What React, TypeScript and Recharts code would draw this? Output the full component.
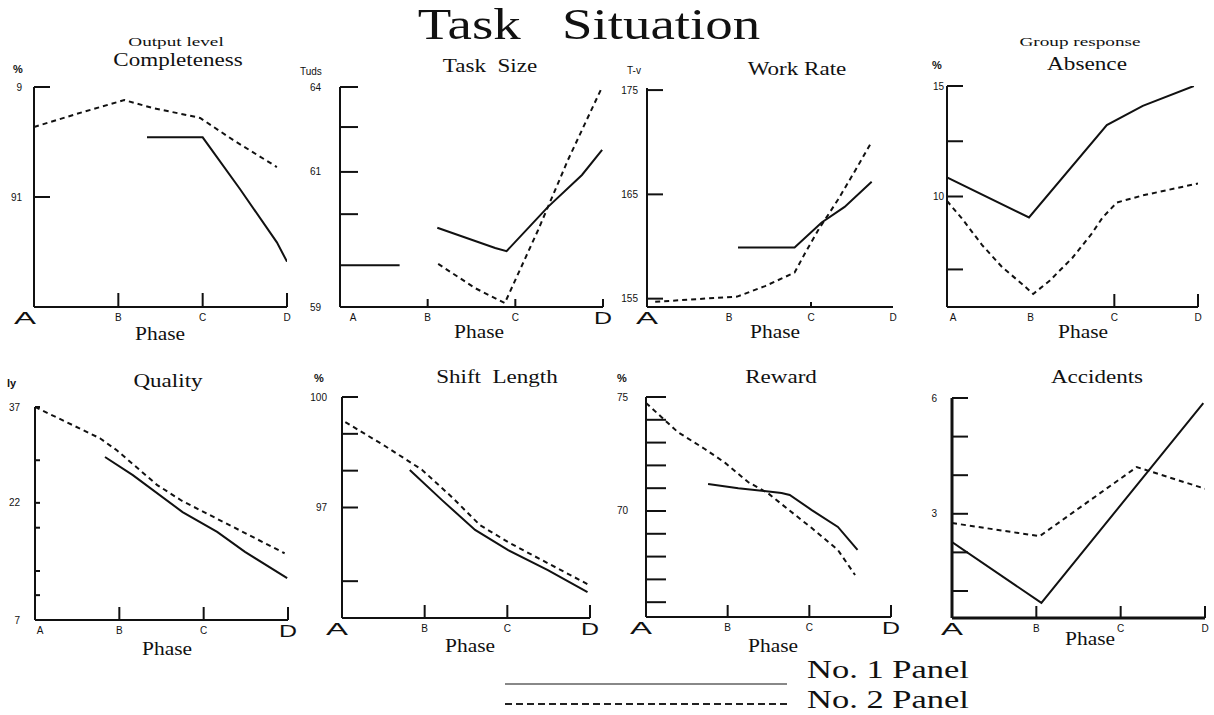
import { LineChart, Line, XAxis, YAxis } from 'recharts';

type Pt = [number, number | null];

// phase axis (A..D) shared by all panels
const phases = ['A', 'B', 'C', 'D'];
const phaseTicks = [0, 1, 2, 3];

// Completeness (output level), %
const completenessTicks = [91, 99];
const completenessLabels = ['91', '9'];
const completenessNo1: Pt[] = [[1.34, 95.34], [2, 95.34], [2.44, 91.6], [2.88, 87.7], [3, 86.3]];
const completenessNo2: Pt[] = [
  [0, 96.09], [0.58, 97.18], [1.07, 98.05], [1.41, 97.47], [1.81, 96.96], [1.97, 96.75], [2.36, 95.15], [2.88, 93.18],
];

// Task size, tuds
const taskTicks = [59, 61.11, 62.07, 63.09, 64];
const taskLabels = ['59', '', '61', '', '64'];
const taskNo1: Pt[] = [
  [0, 59.95], [0.68, 59.95], [0.7, null],
  [1.11, 60.8], [1.77, 60.34], [1.9, 60.27], [2.37, 61.27], [2.76, 62.0], [2.99, 62.57],
];
const taskNo2: Pt[] = [[1.12, 59.98], [1.54, 59.43], [1.88, 59.09], [2.26, 60.75], [2.6, 62.34], [2.99, 64]];

// Work rate, T-v
const workTicks = [155, 165, 175];
const workLabels = ['155', '165', '175'];
const workNo1: Pt[] = [[1.11, 159.9], [1.8, 159.9], [2.13, 162.3], [2.41, 163.8], [2.74, 166.2]];
const workNo2: Pt[] = [
  [0.1, 154.7], [1.1, 155.2], [1.44, 156.2], [1.8, 157.5], [1.93, 159.4], [2.09, 161.6], [2.33, 164.5], [2.57, 167.7], [2.74, 170.05],
];

// Absence (group response), %
const absenceTicks = [6.7, 10, 12.5, 15];
const absenceLabels = ['', '10', '', '15'];
const absenceNo1: Pt[] = [[0, 10.86], [0.98, 9.05], [1.91, 13.23], [2.34, 14.1], [2.95, 15]];
const absenceNo2: Pt[] = [
  [0, 9.8], [0.19, 8.95], [0.42, 7.8], [0.66, 6.8], [0.91, 6.0], [1.03, 5.59],
  [1.23, 6.2], [1.5, 7.23], [1.73, 8.32], [1.86, 9.05], [2.03, 9.73], [2.34, 10.05], [3, 10.59],
];

// Quality, ly
const qualityTicks = [7, 10.5, 13.9, 20, 23.5, 29.5, 37];
const qualityLabels = ['7', '', '', '', '22', '', '37'];
const qualityNo1: Pt[] = [[0.83, 29.96], [1.16, 27.4], [1.75, 22.2], [2.16, 19.4], [2.49, 16.6], [2.99, 12.9]];
const qualityNo2: Pt[] = [[0, 37], [0.77, 32.6], [0.97, 30.9], [1.45, 26.0], [1.74, 23.8], [2.35, 20.1], [2.96, 16.4]];

// Shift length, %
const shiftTicks = [95, 97, 98, 99, 100];
const shiftLabels = ['', '97', '', '', '100'];
const shiftNo1: Pt[] = [[0.82, 98.02], [1.21, 97.2], [1.61, 96.39], [2.01, 95.84], [2.49, 95.3], [2.97, 94.7]];
const shiftNo2: Pt[] = [
  [0.04, 99.32], [0.52, 98.67], [0.97, 98.02], [1.33, 97.28], [1.67, 96.52], [2.01, 96.06], [2.42, 95.57], [2.97, 94.92],
];

// Reward, %
const rewardTicks = [66, 67, 68, 69, 70, 71, 72, 73, 74, 75];
const rewardLabels = ['', '', '', '', '70', '', '', '', '', '75'];
const rewardNo1: Pt[] = [[0.76, 71.18], [1.13, 71.0], [1.66, 70.79], [1.76, 70.7], [2.03, 70.04], [2.35, 69.3], [2.59, 68.29]];
const rewardNo2: Pt[] = [
  [0, 74.74], [0.39, 73.46], [0.72, 72.72], [0.97, 72.11], [1.25, 71.27], [1.49, 70.79], [1.72, 70.13],
  [2.03, 69.25], [2.35, 68.29], [2.56, 67.19],
];

// Accidents
const accidentTicks = [1, 2, 3, 4, 5, 6];
const accidentLabels = ['', '', '3', '', '', '6'];
const accidentNo1: Pt[] = [[0, 2.27], [1.06, 0.69], [2.98, 5.87]];
const accidentNo2: Pt[] = [[0, 2.76], [1.04, 2.42], [2.19, 4.21], [3, 3.65]];

const INK = '#111';
const SERIF = '"Liberation Serif", "Times New Roman", serif';
const SANS = '"Liberation Sans", Arial, sans-serif';
const PAD_L = 44;
const PAD_R = 26;
const PAD_T = 8;
const PAD_B = 30;

interface PanelProps {
  left: number;
  top: number;
  right: number;
  bottom: number;
  domain: [number, number];
  yTicks: number[];
  yLabels: string[];
  no1: Pt[];
  no2: Pt[];
  labelGap: number;
  tickLen: number;
  marks: number[];
  markLen: number;
  axisW?: number;
  bigA?: boolean;
  bigD?: boolean;
  aShift?: number;
}

function Panel(p: PanelProps) {
  const w = p.right - p.left;
  const h = p.bottom - p.top;
  const rows1 = p.no1.map(([x, y]) => ({ x, y }));
  const rows2 = p.no2.map(([x, y]) => ({ x, y }));

  const renderX = (t: any) => {
    const v = t.payload.value as number;
    const big = (v === 0 && p.bigA) || (v === 3 && p.bigD);
    const tx = t.x + (v === 0 ? p.aShift ?? 0 : 0);
    return (
      <g>
        {p.marks.includes(v) && (
          <line x1={t.x} x2={t.x} y1={t.y} y2={t.y - p.markLen} stroke={INK} strokeWidth={2} />
        )}
        {big ? (
          <text x={tx} y={t.y + 17} textAnchor="middle" fontSize={16} fontFamily={SANS} fill={INK}
            textLength={v === 0 ? 22 : 18} lengthAdjust="spacingAndGlyphs">
            {phases[v]}
          </text>
        ) : (
          <text x={tx} y={t.y + 14} textAnchor="middle" fontSize={10} fontFamily={SANS} fill={INK}>
            {phases[v]}
          </text>
        )}
      </g>
    );
  };

  const renderY = (t: any) => {
    const v = t.payload.value as number;
    const label = p.yLabels[p.yTicks.indexOf(v)];
    return (
      <g>
        <line x1={t.x} x2={t.x + p.tickLen} y1={t.y} y2={t.y} stroke={INK} strokeWidth={2} />
        {label && (
          <text x={t.x - p.labelGap} y={t.y} dy="0.35em" textAnchor="end" fontSize={10} fontFamily={SANS} fill={INK}>
            {label}
          </text>
        )}
      </g>
    );
  };

  return (
    <div style={{ position: 'absolute', left: p.left - PAD_L, top: p.top - PAD_T }}>
      <LineChart
        width={w + PAD_L + PAD_R}
        height={h + PAD_T + PAD_B}
        margin={{ top: PAD_T, right: PAD_R, bottom: 0, left: 0 }}
        style={{ overflow: 'visible' }}
      >
        <XAxis
          type="number"
          dataKey="x"
          domain={[0, 3]}
          ticks={phaseTicks}
          interval={0}
          allowDataOverflow
          height={PAD_B}
          tickSize={0}
          tickMargin={0}
          tickLine={false}
          axisLine={{ stroke: INK, strokeWidth: p.axisW ?? 2 }}
          tick={renderX}
        />
        <YAxis
          type="number"
          domain={p.domain}
          ticks={p.yTicks}
          interval={0}
          allowDataOverflow
          width={PAD_L}
          tickSize={0}
          tickMargin={0}
          tickLine={false}
          axisLine={{ stroke: INK, strokeWidth: p.axisW ?? 2 }}
          tick={renderY}
        />
        <Line data={rows2} dataKey="y" type="linear" stroke={INK} strokeWidth={2} strokeDasharray="5 4"
          dot={false} isAnimationActive={false} />
        <Line data={rows1} dataKey="y" type="linear" stroke={INK} strokeWidth={2}
          dot={false} isAnimationActive={false} />
      </LineChart>
    </div>
  );
}

interface TxtProps {
  x: number;
  y: number; // baseline
  size: number;
  sx?: number;
  anchor?: 'start' | 'middle';
  family?: string;
  weight?: number;
  children: string;
}

function Txt({ x, y, size, sx = 1, anchor = 'middle', family = SERIF, weight = 400, children }: TxtProps) {
  return (
    <div
      style={{
        position: 'absolute',
        left: x,
        top: y - 0.84 * size,
        fontSize: size,
        lineHeight: 1,
        fontFamily: family,
        fontWeight: weight,
        whiteSpace: 'pre',
        color: INK,
        transform: anchor === 'middle' ? `translateX(-50%) scaleX(${sx})` : `scaleX(${sx})`,
        transformOrigin: anchor === 'middle' ? '50% 0' : '0 0',
      }}
    >
      {children}
    </div>
  );
}

export default function App() {
  return (
    <div style={{ position: 'absolute', left: 0, top: 0, width: 1214, height: 715, background: '#fff', overflow: 'hidden' }}>
      <Txt x={589} y={40} size={45} sx={1.22}>{'Task   Situation'}</Txt>

      {/* row 1 */}
      <Txt x={176} y={46} size={12} sx={1.6}>Output level</Txt>
      <Txt x={178} y={66} size={18} sx={1.28}>Completeness</Txt>
      <Txt x={13} y={73} size={11} anchor="start" family={SANS} weight={700}>%</Txt>
      <Txt x={160} y={340} size={18} sx={1.19}>Phase</Txt>
      <Panel left={34} top={87} right={287} bottom={307} domain={[83, 99]}
        yTicks={completenessTicks} yLabels={completenessLabels} no1={completenessNo1} no2={completenessNo2}
        labelGap={12} tickLen={16} marks={[1, 2, 3]} markLen={14} bigA aShift={-9} />

      <Txt x={490} y={72} size={18} sx={1.28}>{'Task  Size'}</Txt>
      <Txt x={300} y={75} size={10} anchor="start" family={SANS}>Tuds</Txt>
      <Txt x={479} y={338} size={18} sx={1.19}>Phase</Txt>
      <Panel left={340} top={87} right={603} bottom={307} domain={[59, 64]}
        yTicks={taskTicks} yLabels={taskLabels} no1={taskNo1} no2={taskNo2}
        labelGap={19} tickLen={18} marks={[1, 2, 3]} markLen={8} bigD aShift={13} />

      <Txt x={797} y={75} size={18} sx={1.28}>Work Rate</Txt>
      <Txt x={627} y={74} size={10} anchor="start" family={SANS}>T-v</Txt>
      <Txt x={775} y={338} size={18} sx={1.19}>Phase</Txt>
      <Panel left={647} top={88} right={893} bottom={307} domain={[154.2, 175.2]}
        yTicks={workTicks} yLabels={workLabels} no1={workNo1} no2={workNo2}
        labelGap={9} tickLen={16} marks={[2]} markLen={5} bigA />

      <Txt x={1080} y={46} size={12} sx={1.6}>Group response</Txt>
      <Txt x={1087} y={70} size={18} sx={1.29}>Absence</Txt>
      <Txt x={932} y={69} size={11} anchor="start" family={SANS} weight={700}>%</Txt>
      <Txt x={1083} y={338} size={18} sx={1.19}>Phase</Txt>
      <Panel left={947} top={86} right={1198} bottom={307} domain={[5, 15]}
        yTicks={absenceTicks} yLabels={absenceLabels} no1={absenceNo1} no2={absenceNo2}
        labelGap={3} tickLen={16} marks={[2, 3]} markLen={13} aShift={6} />

      {/* row 2 */}
      <Txt x={168} y={387} size={18} sx={1.28}>Quality</Txt>
      <Txt x={7} y={387} size={11} anchor="start" family={SANS} weight={700}>ly</Txt>
      <Txt x={167} y={655} size={18} sx={1.19}>Phase</Txt>
      <Panel left={35} top={407} right={288} bottom={620} domain={[7, 37]}
        yTicks={qualityTicks} yLabels={qualityLabels} no1={qualityNo1} no2={qualityNo2}
        labelGap={15} tickLen={5} marks={[1, 2, 3]} markLen={13} bigD aShift={5} />

      <Txt x={497} y={383} size={18} sx={1.28}>{'Shift  Length'}</Txt>
      <Txt x={314} y={382} size={11} anchor="start" family={SANS} weight={700}>%</Txt>
      <Txt x={470} y={652} size={18} sx={1.19}>Phase</Txt>
      <Panel left={342} top={397} right={590} bottom={618} domain={[94, 100]}
        yTicks={shiftTicks} yLabels={shiftLabels} no1={shiftNo1} no2={shiftNo2}
        labelGap={15} tickLen={16} marks={[1, 2, 3]} markLen={13} bigA bigD aShift={-5} />

      <Txt x={781} y={383} size={18} sx={1.28}>Reward</Txt>
      <Txt x={617} y={382} size={11} anchor="start" family={SANS} weight={700}>%</Txt>
      <Txt x={773} y={652} size={18} sx={1.19}>Phase</Txt>
      <Panel left={646} top={397} right={891} bottom={617} domain={[65.35, 75]}
        yTicks={rewardTicks} yLabels={rewardLabels} no1={rewardNo1} no2={rewardNo2}
        labelGap={18} tickLen={20} marks={[1, 2, 3]} markLen={12} bigA bigD aShift={-5} />

      <Txt x={1097} y={383} size={18} sx={1.28}>Accidents</Txt>
      <Txt x={1090} y={645} size={18} sx={1.19}>Phase</Txt>
      <Panel left={952} top={398} right={1205} bottom={618} domain={[0.3, 6]}
        yTicks={accidentTicks} yLabels={accidentLabels} no1={accidentNo1} no2={accidentNo2}
        labelGap={15} tickLen={16} marks={[1, 2, 3]} markLen={12} axisW={3} bigA />

      {/* legend */}
      <svg style={{ position: 'absolute', left: 500, top: 670 }} width={300} height={45}>
        <line x1={5} x2={287} y1={14} y2={14} stroke="#888" strokeWidth={2} />
        <line x1={5} x2={288} y1={34} y2={34} stroke="#222" strokeWidth={2} strokeDasharray="7 4" />
      </svg>
      <Txt x={807} y={678} size={25} sx={1.38} anchor="start">No. 1 Panel</Txt>
      <Txt x={807} y={708} size={25} sx={1.38} anchor="start">No. 2 Panel</Txt>
    </div>
  );
}
